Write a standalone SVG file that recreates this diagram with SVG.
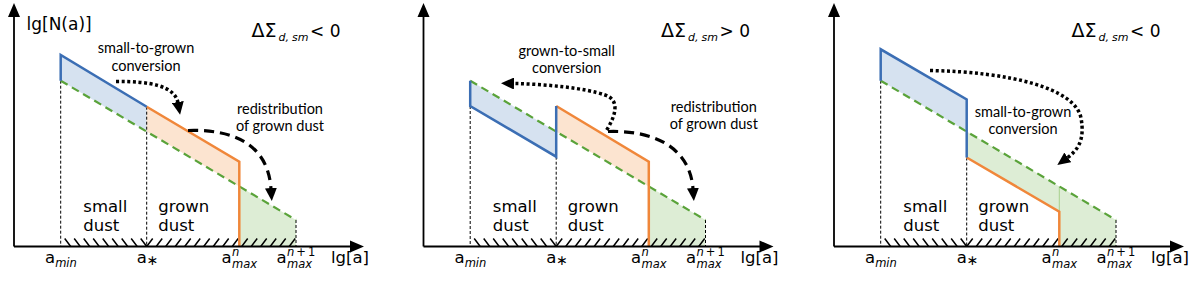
<svg xmlns="http://www.w3.org/2000/svg" xmlns:xlink="http://www.w3.org/1999/xlink" width="1200" height="281" viewBox="0 0 1200 281">
<style>
.ax{stroke:#000;stroke-width:1.8;fill:none}
.ah{fill:#000}
.bl{stroke:#3b6eb4;stroke-width:2.5;fill:none}
.or{stroke:#f0873a;stroke-width:2.5;fill:none}
.gr{stroke:#5aa33a;stroke-width:2.2;stroke-dasharray:8 5;fill:none}
.gv{stroke:#a8d08d;stroke-width:1;fill:none}
.bf{fill:#d6e2f0}
.of{fill:#fce4d0}
.gf{fill:#ddedd5}
.vd{stroke:#000;stroke-width:1;stroke-dasharray:3 2;fill:none}
.ht{stroke:#000;stroke-width:1.5;fill:none}
.m{font-family:"DejaVu Sans",sans-serif;fill:#000}
.big{font-size:17px}
.ds{font-size:19px}
.tk{font-size:16.5px}
.it{font-style:italic;font-size:11.5px}
.sb{font-style:italic;font-size:11px}
.dl{font-size:16.5px}
.an{font-family:Lato,"Open Sans",sans-serif;font-size:14.5px;text-anchor:middle;fill:#000}
.dot{stroke:#000;stroke-width:3.5;stroke-dasharray:3 2.6;fill:none}
.dsh{stroke:#000;stroke-width:3.2;stroke-dasharray:10 6;fill:none}
</style>
<defs>
<marker id="arr" markerUnits="userSpaceOnUse" markerWidth="14" markerHeight="12" refX="1" refY="6" orient="auto">
<path d="M0,0 L13,6 L0,12 z" fill="#000"/>
</marker>
<path id="hatch" class="ht" d="M64.7 238.5l6 8M74.2 238.5l6 8M83.7 238.5l6 8M93.2 238.5l6 8M102.7 238.5l6 8M112.2 238.5l6 8M121.7 238.5l6 8M131.2 238.5l6 8M140.7 238.5l6 8M146.7 246.5l6-8M156.2 246.5l6-8M165.7 246.5l6-8M175.2 246.5l6-8M184.7 246.5l6-8M194.2 246.5l6-8M203.7 246.5l6-8M213.2 246.5l6-8M222.7 246.5l6-8M232.2 246.5l6-8M241.7 246.5l6-8M251.2 246.5l6-8M260.7 246.5l6-8M270.2 246.5l6-8M279.7 246.5l6-8M289.2 246.5l6-8"/>
<g id="axes">
<path class="ax" d="M14,246.5 V15 M14,246.5 H352"/>
<path class="ah" d="M14,3 L8,17 L20,17 z M364,246.5 L350,240.5 L350,252.5 z"/>
</g>
<g id="ticks">
<text class="m tk" x="45" y="263">a<tspan class="it" dy="4">min</tspan></text>
<text class="m tk" x="136.7" y="263">a<tspan dy="2" font-size="14">∗</tspan></text>
<text class="m tk" x="221.5" y="263">a</text>
<text class="m it" x="232" y="256">n</text>
<text class="m it" x="232" y="268">max</text>
<text class="m tk" x="276.5" y="263">a</text>
<text class="m it" x="287" y="256">n<tspan font-style="normal" dx="2">+</tspan><tspan font-style="normal" dx="2">1</tspan></text>
<text class="m it" x="287" y="268">max</text>
<text class="m tk" x="331" y="263">lg[a]</text>
<text class="m dl" x="83.3" y="212">small</text>
<text class="m dl" x="83.3" y="231">dust</text>
<text class="m dl" x="158.3" y="212">grown</text>
<text class="m dl" x="158.3" y="231">dust</text>
</g>
<g id="dsig">
<text class="m ds" x="251.5" y="36.5">ΔΣ</text>
<text class="m sb" x="278.5" y="40.5">d,</text>
<text class="m sb" x="292" y="40.5">sm</text>
</g>
</defs>

<g id="panel1">
<polygon class="bf" points="60.7,55 146.7,106.7 146.7,131.6 60.7,80.7"/>
<polygon class="of" points="146.7,106.7 239.3,161.7 239.3,186.4 146.7,131.6"/>
<polygon class="gf" points="239.3,186.4 296,220 296,246.5 239.3,246.5"/>
<use xlink:href="#hatch"/>
<path class="vd" d="M60.7,80.7 V246.5 M146.7,106.7 V246.5 M296,220 V246.5"/>
<path class="gr" d="M60.7,80.7 L296,220"/>
<path class="or" d="M146.7,106.7 L239.3,161.7 V246.5"/>
<path class="bl" d="M60.7,80.7 V55 L146.7,106.7"/>
<use xlink:href="#axes"/>
<use xlink:href="#ticks"/>
<text class="m big" x="26.5" y="30">lg[N(a)]</text>
<use xlink:href="#dsig"/>
<text class="m big" x="310" y="36.5">&lt; 0</text>
<text class="an" x="146" y="52.5">small-to-grown</text>
<text class="an" x="146" y="70.5">conversion</text>
<text class="an" x="280" y="114">redistribution</text>
<text class="an" x="280" y="131">of grown dust</text>
</g>

<g id="panel2" transform="translate(409.5,0)">
<polygon class="bf" points="60.7,80.7 146.7,131.6 146.7,156.7 60.7,106"/>
<polygon class="of" points="146.7,106 239.3,161.7 239.3,186.4 146.7,131.6"/>
<polygon class="gf" points="239.3,186.4 296,220 296,246.5 239.3,246.5"/>
<use xlink:href="#hatch"/>
<path class="vd" d="M60.7,106 V246.5 M146.7,156.7 V246.5 M296,220 V246.5"/>
<path class="gr" d="M60.7,80.7 L296,220"/>
<path class="or" d="M146.7,106 L239.3,161.7 V246.5"/>
<path class="bl" d="M60.7,80.7 V106 L146.7,156.7 V106"/>
<use xlink:href="#axes"/>
<use xlink:href="#ticks"/>
<use xlink:href="#dsig"/>
<text class="m big" x="310" y="36.5">&gt; 0</text>
<text class="an" x="157.2" y="55.5">grown-to-small</text>
<text class="an" x="157.2" y="73">conversion</text>
<text class="an" x="304.3" y="111.5">redistribution</text>
<text class="an" x="304.3" y="128.5">of grown dust</text>
</g>

<g id="panel3" transform="translate(820,0)">
<polygon class="bf" points="60.7,49.3 146.7,99.5 146.7,131.6 60.7,80.7"/>
<polygon class="gf" points="146.7,131.6 296,220 296,246.5 239.3,246.5 239.3,211.7 146.7,157.5"/>
<use xlink:href="#hatch"/>
<path class="vd" d="M60.7,80.7 V246.5 M146.7,157.5 V246.5 M296,220 V246.5"/>
<path class="gv" d="M239.3,186.4 V211.7"/>
<path class="gr" d="M60.7,80.7 L296,220"/>
<path class="or" d="M146.7,157.5 L239.3,211.7 V246.5"/>
<path class="bl" d="M60.7,80.7 V49.3 L146.7,99.5 V157.5"/>
<use xlink:href="#axes"/>
<use xlink:href="#ticks"/>
<use xlink:href="#dsig"/>
<text class="m big" x="310" y="36.5">&lt; 0</text>
<text class="an" x="203" y="117">small-to-grown</text>
<text class="an" x="203" y="134">conversion</text>
</g>

<g id="connectors">
<path class="dot" marker-end="url(#arr)" d="M116,81.5 C150,81 175,86 178,103"/>
<path class="dsh" marker-end="url(#arr)" d="M188,130.5 C235,129 268,145 271,189"/>
<path class="dot" marker-end="url(#arr)" d="M606.7,130 C616,115 620,100 605,95 C585,88 545,84 513,83.5"/>
<path class="dsh" marker-end="url(#arr)" d="M608,131.5 C655,130 690,148 693,189"/>
<path class="dot" marker-end="url(#arr)" d="M930,70.5 C1010,72 1075,88 1081,118 C1085,140 1078,150 1067,158"/>
</g>
</svg>
